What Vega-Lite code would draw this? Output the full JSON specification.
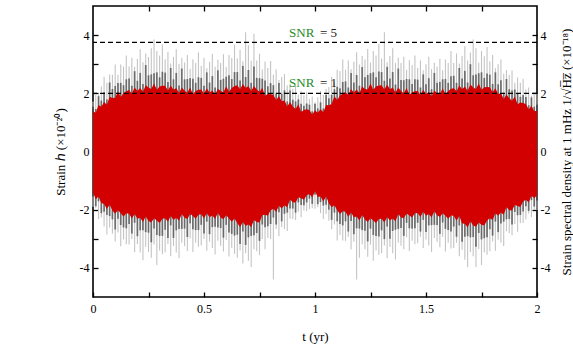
{
"$schema": "https://vega.github.io/schema/vega-lite/v6.json",
"width": 444, "height": 291,
"autosize": "none",
"padding": {"left": 93, "top": 6, "right": 36, "bottom": 49},
"background": "white",
"config": {"font": "Liberation Serif", "view": {"stroke": "#000", "strokeWidth": 1.6},
 "axis": {"domain": false, "grid": false, "labelFont": "Liberation Serif", "titleFont": "Liberation Serif", "labelFontSize": 12, "titleFontSize": 13, "titleFontWeight": "normal", "labelColor": "#000", "titleColor": "#000", "tickColor": "#000", "tickWidth": 1.3, "labelFlush": false}},
"data": {"values": [
{"t":0,"gh":1.72,"dh":1.54,"rh":1.38,"rl":-1.41,"dl":-1.55,"gl":-1.9},
{"t":0.0125,"gh":1.99,"dh":1.46,"rh":1.33,"rl":-1.64,"dl":-1.88,"gl":-1.95},
{"t":0.025,"gh":1.97,"dh":1.9,"rh":1.6,"rl":-1.55,"dl":-1.71,"gl":-2.32},
{"t":0.0375,"gh":2.23,"dh":1.75,"rh":1.54,"rl":-1.77,"dl":-2.12,"gl":-2.27},
{"t":0.05,"gh":2.57,"dh":2.04,"rh":1.7,"rl":-1.8,"dl":-2.07,"gl":-2.58},
{"t":0.0625,"gh":2.36,"dh":1.79,"rh":1.61,"rl":-1.98,"dl":-2.18,"gl":-2.85},
{"t":0.075,"gh":2.65,"dh":2.37,"rh":1.88,"rl":-1.83,"dl":-2.22,"gl":-2.61},
{"t":0.0875,"gh":2.64,"dh":2.15,"rh":1.84,"rl":-2.03,"dl":-2.33,"gl":-2.82},
{"t":0.1,"gh":2.99,"dh":2.25,"rh":1.85,"rl":-2.14,"dl":-2.68,"gl":-3.09},
{"t":0.1125,"gh":2.64,"dh":2.35,"rh":2.07,"rl":-2.02,"dl":-2.31,"gl":-2.78},
{"t":0.125,"gh":2.99,"dh":2.36,"rh":1.87,"rl":-2.12,"dl":-2.53,"gl":-3.26},
{"t":0.1375,"gh":2.92,"dh":2.28,"rh":2.01,"rl":-2.24,"dl":-2.61,"gl":-3.02},
{"t":0.15,"gh":3.3,"dh":2.48,"rh":2.07,"rl":-2.12,"dl":-2.64,"gl":-3.19},
{"t":0.1625,"gh":2.92,"dh":2.51,"rh":2.11,"rl":-2.14,"dl":-2.49,"gl":-3.2},
{"t":0.175,"gh":3.22,"dh":2.26,"rh":1.99,"rl":-2.3,"dl":-2.82,"gl":-3.01},
{"t":0.1875,"gh":2.91,"dh":2.76,"rh":2.2,"rl":-2.15,"dl":-2.45,"gl":-3.46},
{"t":0.2,"gh":3.18,"dh":2.43,"rh":2.08,"rl":-2.31,"dl":-2.91,"gl":-3.18},
{"t":0.2125,"gh":3.51,"dh":2.7,"rh":2.18,"rl":-2.28,"dl":-2.71,"gl":-3.47},
{"t":0.225,"gh":3.07,"dh":2.32,"rh":2.05,"rl":-2.42,"dl":-2.71,"gl":-3.74},
{"t":0.2375,"gh":3.37,"dh":2.97,"rh":2.28,"rl":-2.23,"dl":-2.77,"gl":-3.27},
{"t":0.25,"gh":3.25,"dh":2.62,"rh":2.2,"rl":-2.39,"dl":-2.79,"gl":-3.45},
{"t":0.2625,"gh":3.55,"dh":2.65,"rh":2.15,"rl":-2.44,"dl":-3.12,"gl":-3.65},
{"t":0.275,"gh":3.85,"dh":2.69,"rh":2.34,"rl":-2.29,"dl":-2.65,"gl":-3.2},
{"t":0.2875,"gh":3.45,"dh":2.72,"rh":2.12,"rl":-2.37,"dl":-2.87,"gl":-3.9},
{"t":0.3,"gh":3.3,"dh":2.55,"rh":2.23,"rl":-2.46,"dl":-2.9,"gl":-3.4},
{"t":0.3125,"gh":3.68,"dh":2.74,"rh":2.26,"rl":-2.31,"dl":-2.9,"gl":-3.53},
{"t":0.325,"gh":3.17,"dh":2.71,"rh":2.26,"rl":-2.29,"dl":-2.69,"gl":-3.47},
{"t":0.3375,"gh":3.42,"dh":2.39,"rh":2.1,"rl":-2.41,"dl":-2.97,"gl":-3.18},
{"t":0.35,"gh":3.02,"dh":2.87,"rh":2.27,"rl":-2.22,"dl":-2.54,"gl":-3.6},
{"t":0.3625,"gh":3.25,"dh":2.48,"rh":2.12,"rl":-2.35,"dl":-2.97,"gl":-3.25},
{"t":0.375,"gh":3.51,"dh":2.7,"rh":2.18,"rl":-2.28,"dl":-2.71,"gl":-3.47},
{"t":0.3875,"gh":3.01,"dh":2.27,"rh":2.01,"rl":-2.38,"dl":-2.66,"gl":-3.67},
{"t":0.4,"gh":3.22,"dh":2.85,"rh":2.2,"rl":-2.15,"dl":-2.66,"gl":-3.14},
{"t":0.4125,"gh":3.06,"dh":2.48,"rh":2.09,"rl":-2.28,"dl":-2.65,"gl":-3.26},
{"t":0.425,"gh":3.32,"dh":2.49,"rh":2.03,"rl":-2.32,"dl":-2.94,"gl":-3.42},
{"t":0.4375,"gh":2.84,"dh":2.52,"rh":2.2,"rl":-2.15,"dl":-2.47,"gl":-2.98},
{"t":0.45,"gh":3.17,"dh":2.5,"rh":1.97,"rl":-2.22,"dl":-2.67,"gl":-3.45},
{"t":0.4625,"gh":3.04,"dh":2.36,"rh":2.08,"rl":-2.31,"dl":-2.7,"gl":-3.14},
{"t":0.475,"gh":3.4,"dh":2.55,"rh":2.12,"rl":-2.17,"dl":-2.7,"gl":-3.27},
{"t":0.4875,"gh":2.95,"dh":2.53,"rh":2.13,"rl":-2.16,"dl":-2.52,"gl":-3.23},
{"t":0.5,"gh":3.22,"dh":2.26,"rh":1.99,"rl":-2.3,"dl":-2.82,"gl":-3.01},
{"t":0.5125,"gh":2.86,"dh":2.72,"rh":2.17,"rl":-2.12,"dl":-2.41,"gl":-3.41},
{"t":0.525,"gh":3.08,"dh":2.37,"rh":2.03,"rl":-2.26,"dl":-2.84,"gl":-3.1},
{"t":0.5375,"gh":3.35,"dh":2.59,"rh":2.1,"rl":-2.2,"dl":-2.6,"gl":-3.32},
{"t":0.55,"gh":2.91,"dh":2.2,"rh":1.95,"rl":-2.32,"dl":-2.59,"gl":-3.54},
{"t":0.5625,"gh":3.15,"dh":2.79,"rh":2.16,"rl":-2.11,"dl":-2.61,"gl":-3.07},
{"t":0.575,"gh":3.04,"dh":2.46,"rh":2.08,"rl":-2.27,"dl":-2.63,"gl":-3.24},
{"t":0.5875,"gh":3.34,"dh":2.5,"rh":2.04,"rl":-2.33,"dl":-2.96,"gl":-3.44},
{"t":0.6,"gh":2.9,"dh":2.57,"rh":2.24,"rl":-2.19,"dl":-2.52,"gl":-3.04},
{"t":0.6125,"gh":3.32,"dh":2.62,"rh":2.05,"rl":-2.3,"dl":-2.78,"gl":-3.61},
{"t":0.625,"gh":3.21,"dh":2.49,"rh":2.18,"rl":-2.41,"dl":-2.83,"gl":-3.31},
{"t":0.6375,"gh":3.67,"dh":2.73,"rh":2.25,"rl":-2.3,"dl":-2.89,"gl":-3.52},
{"t":0.65,"gh":3.2,"dh":2.73,"rh":2.28,"rl":-2.46,"dl":-2.86,"gl":-3.65},
{"t":0.6625,"gh":3.5,"dh":2.44,"rh":2.14,"rl":-2.6,"dl":-3.18,"gl":-3.4},
{"t":0.675,"gh":3.1,"dh":2.94,"rh":2.32,"rl":-2.42,"dl":-2.75,"gl":-3.85},
{"t":0.6875,"gh":4.1,"dh":2.56,"rh":2.18,"rl":-2.56,"dl":-3.21,"gl":-3.5},
{"t":0.7,"gh":3.65,"dh":2.8,"rh":2.25,"rl":-2.5,"dl":-2.95,"gl":-3.75},
{"t":0.7125,"gh":3.12,"dh":2.36,"rh":2.08,"rl":-2.6,"dl":-2.9,"gl":-3.97},
{"t":0.725,"gh":4.05,"dh":2.92,"rh":2.25,"rl":-2.35,"dl":-2.88,"gl":-3.36},
{"t":0.7375,"gh":3.13,"dh":2.53,"rh":2.13,"rl":-2.42,"dl":-2.8,"gl":-3.43},
{"t":0.75,"gh":3.36,"dh":2.52,"rh":2.05,"rl":-2.44,"dl":-3.07,"gl":-3.56},
{"t":0.7625,"gh":2.82,"dh":2.5,"rh":2.19,"rl":-2.19,"dl":-2.51,"gl":-3.01},
{"t":0.775,"gh":3.09,"dh":2.44,"rh":1.92,"rl":-2.17,"dl":-2.6,"gl":-3.36},
{"t":0.7875,"gh":2.87,"dh":2.24,"rh":1.98,"rl":-2.21,"dl":-2.57,"gl":-2.97},
{"t":0.8,"gh":3.11,"dh":2.35,"rh":1.97,"rl":-2.02,"dl":-2.49,"gl":-3.01},
{"t":0.8125,"gh":2.64,"dh":2.28,"rh":1.94,"rl":-1.97,"dl":-2.27,"gl":-4.4},
{"t":0.825,"gh":2.82,"dh":1.99,"rh":1.77,"rl":-2.08,"dl":-2.51,"gl":-2.66},
{"t":0.8375,"gh":2.46,"dh":2.35,"rh":1.91,"rl":-1.86,"dl":-2.09,"gl":-2.91},
{"t":0.85,"gh":2.56,"dh":1.99,"rh":1.73,"rl":-1.96,"dl":-2.4,"gl":-2.6},
{"t":0.8625,"gh":2.66,"dh":2.1,"rh":1.75,"rl":-1.85,"dl":-2.14,"gl":-2.67},
{"t":0.875,"gh":2.27,"dh":1.72,"rh":1.55,"rl":-1.92,"dl":-2.1,"gl":-2.73},
{"t":0.8875,"gh":2.33,"dh":2.1,"rh":1.7,"rl":-1.65,"dl":-1.96,"gl":-2.31},
{"t":0.9,"gh":2.16,"dh":1.78,"rh":1.55,"rl":-1.74,"dl":-1.96,"gl":-2.32},
{"t":0.9125,"gh":2.25,"dh":1.72,"rh":1.46,"rl":-1.75,"dl":-2.1,"gl":-2.35},
{"t":0.925,"gh":1.95,"dh":1.79,"rh":1.62,"rl":-1.57,"dl":-1.75,"gl":-2.07},
{"t":0.9375,"gh":2.07,"dh":1.64,"rh":1.36,"rl":-1.61,"dl":-1.84,"gl":-2.26},
{"t":0.95,"gh":1.93,"dh":1.57,"rh":1.43,"rl":-1.66,"dl":-1.85,"gl":-2.03},
{"t":0.9625,"gh":2.05,"dh":1.65,"rh":1.45,"rl":-1.5,"dl":-1.75,"gl":-2.05},
{"t":0.975,"gh":1.8,"dh":1.61,"rh":1.43,"rl":-1.46,"dl":-1.62,"gl":-1.98},
{"t":0.9875,"gh":1.89,"dh":1.38,"rh":1.27,"rl":-1.58,"dl":-1.8,"gl":-1.95},
{"t":1,"gh":1.69,"dh":1.64,"rh":1.42,"rl":-1.37,"dl":-1.49,"gl":-1.97},
{"t":1.0125,"gh":1.86,"dh":1.48,"rh":1.33,"rl":-1.56,"dl":-1.81,"gl":-1.92},
{"t":1.025,"gh":2.08,"dh":1.69,"rh":1.45,"rl":-1.55,"dl":-1.74,"gl":-2.12},
{"t":1.0375,"gh":1.94,"dh":1.48,"rh":1.35,"rl":-1.72,"dl":-1.86,"gl":-2.32},
{"t":1.05,"gh":2.15,"dh":1.95,"rh":1.6,"rl":-1.55,"dl":-1.83,"gl":-2.15},
{"t":1.0625,"gh":2.22,"dh":1.83,"rh":1.59,"rl":-1.78,"dl":-2,"gl":-2.38},
{"t":1.075,"gh":2.57,"dh":1.95,"rh":1.63,"rl":-1.92,"dl":-2.35,"gl":-2.67},
{"t":1.0875,"gh":2.38,"dh":2.14,"rh":1.9,"rl":-1.85,"dl":-2.1,"gl":-2.51},
{"t":1.1,"gh":2.81,"dh":2.22,"rh":1.77,"rl":-2.02,"dl":-2.4,"gl":-3.06},
{"t":1.1125,"gh":2.77,"dh":2.17,"rh":1.92,"rl":-2.15,"dl":-2.49,"gl":-2.87},
{"t":1.125,"gh":3.16,"dh":2.39,"rh":2,"rl":-2.05,"dl":-2.54,"gl":-3.06},
{"t":1.1375,"gh":2.81,"dh":2.41,"rh":2.04,"rl":-2.07,"dl":-2.4,"gl":-3.07},
{"t":1.15,"gh":3.13,"dh":2.2,"rh":1.94,"rl":-2.25,"dl":-2.75,"gl":-2.93},
{"t":1.1625,"gh":2.83,"dh":2.7,"rh":2.15,"rl":-2.1,"dl":-2.39,"gl":-3.37},
{"t":1.175,"gh":3.08,"dh":2.37,"rh":2.03,"rl":-2.26,"dl":-2.84,"gl":-3.1},
{"t":1.1875,"gh":3.41,"dh":2.63,"rh":2.13,"rl":-2.23,"dl":-2.64,"gl":-4.4},
{"t":1.2,"gh":2.99,"dh":2.26,"rh":2,"rl":-2.37,"dl":-2.65,"gl":-3.65},
{"t":1.2125,"gh":3.28,"dh":2.9,"rh":2.23,"rl":-2.18,"dl":-2.7,"gl":-3.19},
{"t":1.225,"gh":3.16,"dh":2.55,"rh":2.15,"rl":-2.34,"dl":-2.72,"gl":-3.36},
{"t":1.2375,"gh":3.52,"dh":2.63,"rh":2.13,"rl":-2.42,"dl":-3.09,"gl":-3.62},
{"t":1.25,"gh":3.05,"dh":2.69,"rh":2.34,"rl":-2.29,"dl":-2.65,"gl":-3.2},
{"t":1.2625,"gh":3.45,"dh":2.72,"rh":2.12,"rl":-2.37,"dl":-2.87,"gl":-3.75},
{"t":1.275,"gh":3.3,"dh":2.55,"rh":2.23,"rl":-2.46,"dl":-2.9,"gl":-3.4},
{"t":1.2875,"gh":3.7,"dh":2.75,"rh":2.27,"rl":-2.32,"dl":-2.92,"gl":-3.55},
{"t":1.3,"gh":3.2,"dh":2.73,"rh":2.28,"rl":-2.31,"dl":-2.71,"gl":-3.5},
{"t":1.3125,"gh":4.1,"dh":2.43,"rh":2.13,"rl":-2.44,"dl":-3.01,"gl":-3.23},
{"t":1.325,"gh":3.07,"dh":2.91,"rh":2.3,"rl":-2.25,"dl":-2.58,"gl":-3.67},
{"t":1.3375,"gh":3.28,"dh":2.51,"rh":2.14,"rl":-2.37,"dl":-3,"gl":-3.28},
{"t":1.35,"gh":3.55,"dh":2.73,"rh":2.2,"rl":-2.3,"dl":-2.73,"gl":-3.5},
{"t":1.3625,"gh":3.04,"dh":2.3,"rh":2.03,"rl":-2.4,"dl":-2.69,"gl":-3.71},
{"t":1.375,"gh":3.22,"dh":2.85,"rh":2.2,"rl":-2.15,"dl":-2.66,"gl":-3.14},
{"t":1.3875,"gh":3.04,"dh":2.46,"rh":2.08,"rl":-2.27,"dl":-2.63,"gl":-3.24},
{"t":1.4,"gh":3.26,"dh":2.45,"rh":2,"rl":-2.29,"dl":-2.9,"gl":-3.36},
{"t":1.4125,"gh":2.81,"dh":2.49,"rh":2.18,"rl":-2.13,"dl":-2.45,"gl":-2.95},
{"t":1.425,"gh":3.14,"dh":2.48,"rh":1.95,"rl":-2.2,"dl":-2.64,"gl":-3.42},
{"t":1.4375,"gh":2.97,"dh":2.32,"rh":2.04,"rl":-2.27,"dl":-2.65,"gl":-3.07},
{"t":1.45,"gh":3.3,"dh":2.48,"rh":2.07,"rl":-2.12,"dl":-2.64,"gl":-3.19},
{"t":1.4625,"gh":2.87,"dh":2.47,"rh":2.08,"rl":-2.11,"dl":-2.45,"gl":-3.15},
{"t":1.475,"gh":3.13,"dh":2.2,"rh":1.94,"rl":-2.25,"dl":-2.75,"gl":-2.93},
{"t":1.4875,"gh":2.79,"dh":2.65,"rh":2.12,"rl":-2.07,"dl":-2.35,"gl":-3.32},
{"t":1.5,"gh":3,"dh":2.31,"rh":1.98,"rl":-2.21,"dl":-2.77,"gl":-3.02},
{"t":1.5125,"gh":3.26,"dh":2.52,"rh":2.05,"rl":-2.15,"dl":-2.54,"gl":-3.23},
{"t":1.525,"gh":2.83,"dh":2.14,"rh":1.9,"rl":-2.27,"dl":-2.53,"gl":-3.45},
{"t":1.5375,"gh":3.05,"dh":2.7,"rh":2.1,"rl":-2.05,"dl":-2.52,"gl":-2.97},
{"t":1.55,"gh":2.92,"dh":2.36,"rh":2,"rl":-2.19,"dl":-2.53,"gl":-3.1},
{"t":1.5625,"gh":3.19,"dh":2.39,"rh":1.96,"rl":-2.25,"dl":-2.83,"gl":-3.29},
{"t":1.575,"gh":2.79,"dh":2.48,"rh":2.17,"rl":-2.12,"dl":-2.44,"gl":-2.93},
{"t":1.5875,"gh":3.16,"dh":2.49,"rh":1.96,"rl":-2.21,"dl":-2.66,"gl":-3.44},
{"t":1.6,"gh":3.04,"dh":2.36,"rh":2.08,"rl":-2.31,"dl":-2.7,"gl":-3.14},
{"t":1.6125,"gh":3.45,"dh":2.59,"rh":2.15,"rl":-2.2,"dl":-2.75,"gl":-3.33},
{"t":1.625,"gh":3.04,"dh":2.6,"rh":2.18,"rl":-2.21,"dl":-2.58,"gl":-3.32},
{"t":1.6375,"gh":3.37,"dh":2.36,"rh":2.07,"rl":-2.38,"dl":-2.93,"gl":-3.14},
{"t":1.65,"gh":3.02,"dh":2.87,"rh":2.27,"rl":-2.22,"dl":-2.54,"gl":-3.6},
{"t":1.6625,"gh":3.28,"dh":2.51,"rh":2.14,"rl":-2.47,"dl":-3.1,"gl":-3.38},
{"t":1.675,"gh":3.62,"dh":2.77,"rh":2.23,"rl":-2.48,"dl":-2.93,"gl":-3.72},
{"t":1.6875,"gh":3.13,"dh":2.37,"rh":2.09,"rl":-2.61,"dl":-2.91,"gl":-3.98},
{"t":1.7,"gh":3.4,"dh":3,"rh":2.3,"rl":-2.4,"dl":-2.95,"gl":-3.45},
{"t":1.7125,"gh":3.85,"dh":2.62,"rh":2.2,"rl":-2.54,"dl":-2.94,"gl":-3.6},
{"t":1.725,"gh":3.55,"dh":2.65,"rh":2.15,"rl":-2.59,"dl":-3.27,"gl":-3.97},
{"t":1.7375,"gh":3.05,"dh":2.69,"rh":2.34,"rl":-2.44,"dl":-2.8,"gl":-3.35},
{"t":1.75,"gh":3.45,"dh":2.72,"rh":2.12,"rl":-2.52,"dl":-3.02,"gl":-3.9},
{"t":1.7625,"gh":3.27,"dh":2.53,"rh":2.21,"rl":-2.54,"dl":-2.98,"gl":-3.47},
{"t":1.775,"gh":3.59,"dh":2.68,"rh":2.22,"rl":-2.37,"dl":-2.95,"gl":-3.55},
{"t":1.7875,"gh":3.09,"dh":2.64,"rh":2.21,"rl":-2.29,"dl":-2.67,"gl":-3.43},
{"t":1.8,"gh":3.32,"dh":2.32,"rh":2.04,"rl":-2.35,"dl":-2.89,"gl":-3.09},
{"t":1.8125,"gh":2.86,"dh":2.72,"rh":2.17,"rl":-2.12,"dl":-2.41,"gl":-3.41},
{"t":1.825,"gh":3,"dh":2.31,"rh":1.98,"rl":-2.21,"dl":-2.77,"gl":-3.02},
{"t":1.8375,"gh":3.16,"dh":2.45,"rh":2,"rl":-2.1,"dl":-2.47,"gl":-3.13},
{"t":1.85,"gh":2.67,"dh":2.02,"rh":1.8,"rl":-2.17,"dl":-2.41,"gl":-3.25},
{"t":1.8625,"gh":2.8,"dh":2.49,"rh":1.96,"rl":-1.91,"dl":-2.33,"gl":-2.74},
{"t":1.875,"gh":2.63,"dh":2.14,"rh":1.83,"rl":-2.02,"dl":-2.32,"gl":-2.81},
{"t":1.8875,"gh":2.78,"dh":2.1,"rh":1.74,"rl":-2.03,"dl":-2.51,"gl":-2.88},
{"t":1.9,"gh":2.36,"dh":2.13,"rh":1.89,"rl":-1.84,"dl":-2.08,"gl":-2.49},
{"t":1.9125,"gh":2.54,"dh":2,"rh":1.62,"rl":-1.87,"dl":-2.19,"gl":-2.76},
{"t":1.925,"gh":2.36,"dh":1.88,"rh":1.68,"rl":-1.91,"dl":-2.18,"gl":-2.46},
{"t":1.9375,"gh":2.5,"dh":1.94,"rh":1.67,"rl":-1.72,"dl":-2.06,"gl":-2.46},
{"t":1.95,"gh":2.14,"dh":1.87,"rh":1.63,"rl":-1.66,"dl":-1.88,"gl":-2.34},
{"t":1.9625,"gh":2.2,"dh":1.59,"rh":1.44,"rl":-1.75,"dl":-2.04,"gl":-2.13},
{"t":1.975,"gh":1.92,"dh":1.86,"rh":1.57,"rl":-1.52,"dl":-1.67,"gl":-2.25},
{"t":1.9875,"gh":1.95,"dh":1.54,"rh":1.38,"rl":-1.61,"dl":-1.89,"gl":-2.01},
{"t":2,"gh":1.98,"dh":1.61,"rh":1.4,"rl":-1.5,"dl":-1.68,"gl":-2.02}
]},
"layer": [
 {"mark": {"type": "rule", "color": "#c4c4c4", "strokeWidth": 1.1},
  "encoding": {
   "x": {"field": "t", "type": "quantitative", "scale": {"domain": [0, 2], "nice": false, "zero": false},
         "axis": {"orient": "bottom", "values": [0, 0.25, 0.5, 0.75, 1, 1.25, 1.5, 1.75, 2], "tickSize": -5, "labelPadding": 11, "labelExpr": "datum.value % 0.5 == 0 ? format(datum.value, '~g') : ''", "title": "t (yr)", "titlePadding": 16}},
   "y": {"field": "gl", "type": "quantitative", "scale": {"domain": [-5, 5], "nice": false, "zero": false},
         "axis": {"orient": "left", "values": [-4, -3, -2, -1, 0, 1, 2, 3, 4], "tickSize": -5, "labelPadding": 9, "labelExpr": "datum.value % 2 == 0 ? '' + datum.value : ''", "title": "Strain ℎ (×10⁻²⁰)", "titleX": -33, "titleY": 145.5, "titleBaseline": "middle", "titleAngle": 270}},
   "y2": {"field": "gh"}}},
 {"mark": {"type": "rule", "color": "#1e1e1e", "opacity": 0.55, "strokeWidth": 1.8},
  "encoding": {
   "x": {"field": "t", "type": "quantitative", "axis": null},
   "y": {"field": "dl", "type": "quantitative", "axis": null},
   "y2": {"field": "dh"}}},
 {"mark": {"type": "area", "color": "#d20000", "opacity": 1},
  "encoding": {
   "x": {"field": "t", "type": "quantitative", "axis": null},
   "y": {"field": "rl", "type": "quantitative", "axis": null},
   "y2": {"field": "rh"}}},
 {"data": {"values": [{"v": 3.75}, {"v": 2}]},
  "mark": {"type": "rule", "color": "#000", "strokeDash": [5, 3], "strokeWidth": 1.2},
  "encoding": {"y": {"field": "v", "type": "quantitative", "axis": null}}},
 {"data": {"values": [{"tx": 0.883, "v": 3.95, "s": "SNR"}, {"tx": 0.883, "v": 2.2, "s": "SNR"}]},
  "mark": {"type": "text", "color": "#1f8a1f", "align": "left", "baseline": "alphabetic", "fontSize": 13, "font": "Liberation Serif"},
  "encoding": {"x": {"field": "tx", "type": "quantitative", "axis": null}, "y": {"field": "v", "type": "quantitative", "axis": null}, "text": {"field": "s"}}},
 {"data": {"values": [{"tx": 1.022, "v": 3.95, "s": "= 5"}, {"tx": 1.022, "v": 2.2, "s": "= 1"}]},
  "mark": {"type": "text", "color": "#222", "align": "left", "baseline": "alphabetic", "fontSize": 13, "font": "Liberation Serif"},
  "encoding": {"x": {"field": "tx", "type": "quantitative", "axis": null}, "y": {"field": "v", "type": "quantitative", "axis": null}, "text": {"field": "s"}}},
 {"mark": {"type": "rule", "opacity": 0},
  "encoding": {
   "x": {"field": "t", "type": "quantitative",
         "axis": {"orient": "top", "values": [0.25, 0.5, 0.75, 1, 1.25, 1.5, 1.75], "tickSize": -5, "labels": false, "title": null}},
   "y": {"field": "rh", "type": "quantitative",
         "axis": {"orient": "right", "values": [-4, -3, -2, -1, 0, 1, 2, 3, 4], "tickSize": -5, "labelPadding": 8, "labelExpr": "datum.value % 2 == 0 ? '' + datum.value : ''", "title": "Strain spectral density at 1 mHz 1/√H̅z̅ (×10⁻¹⁸)", "titleAngle": 270, "titleX": 29, "titleY": 145.5, "titleBaseline": "middle"}}}}
],
"resolve": {"axis": {"x": "independent", "y": "independent"}}
}
